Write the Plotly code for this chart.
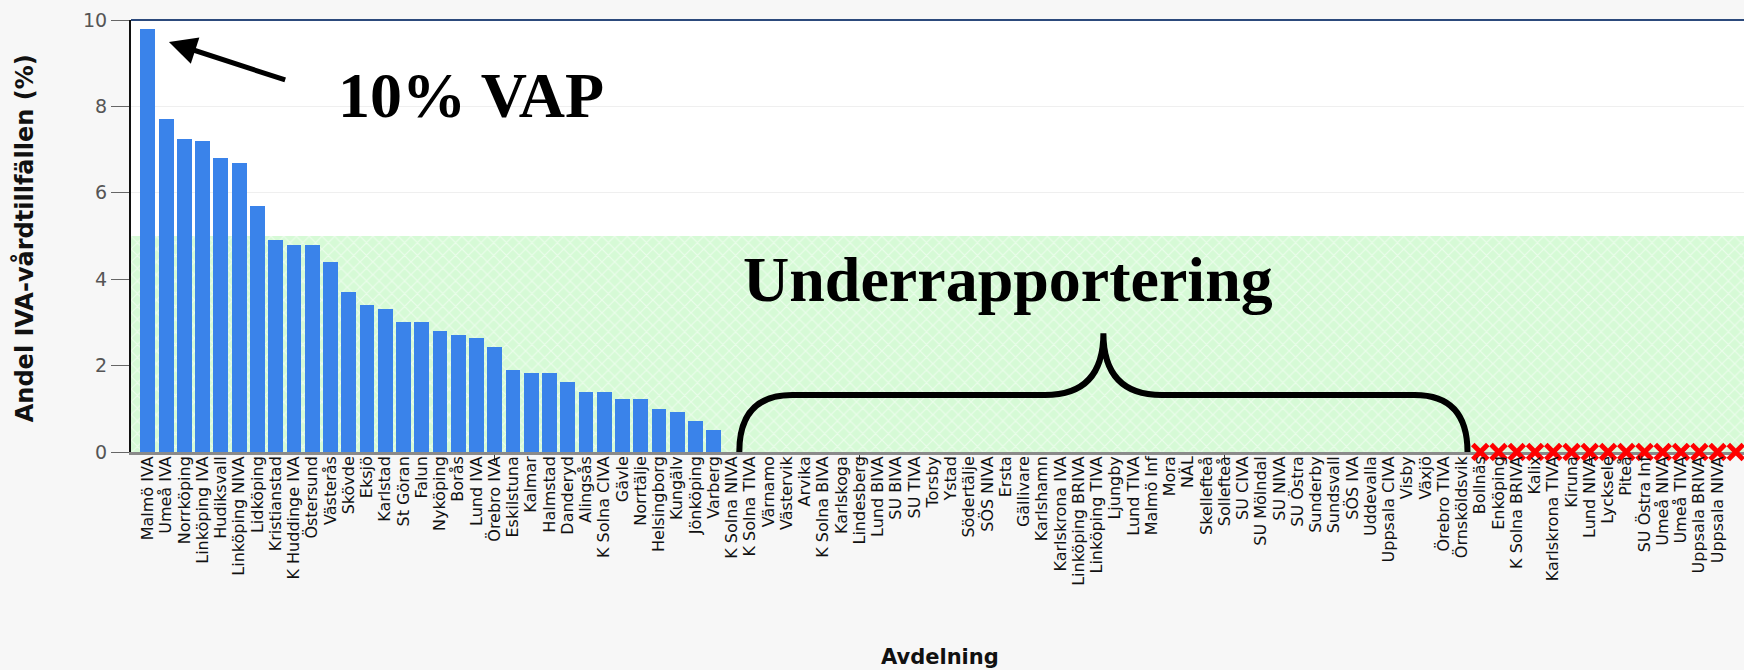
import plotly.graph_objects as go

# ---- data ----
reported_units = ["Malmö IVA", "Umeå IVA", "Norrköping", "Linköping IVA", "Hudiksvall",
                  "Linköping NIVA", "Lidköping", "Kristianstad", "K Huddinge IVA", "Östersund",
                  "Västerås", "Skövde", "Eksjö", "Karlstad", "St Göran", "Falun", "Nyköping",
                  "Borås", "Lund IVA", "Örebro IVA", "Eskilstuna", "Kalmar", "Halmstad",
                  "Danderyd", "Alingsås", "K Solna CIVA", "Gävle", "Norrtälje", "Helsingborg",
                  "Kungälv", "Jönköping", "Varberg"]
reported_values = [9.8, 7.7, 7.25, 7.2, 6.8, 6.7, 5.7, 4.9, 4.8, 4.8, 4.4, 3.7, 3.4, 3.3,
                   3.0, 3.0, 2.8, 2.7, 2.63, 2.42, 1.9, 1.84, 1.84, 1.62, 1.4, 1.4, 1.23,
                   1.23, 1.0, 0.93, 0.72, 0.52]
zero_units = ["K Solna NIVA", "K Solna TIVA", "Värnamo", "Västervik", "Arvika", "K Solna BIVA",
              "Karlskoga", "Lindesberg", "Lund BIVA", "SU BIVA", "SU TIVA", "Torsby", "Ystad",
              "Södertälje", "SÖS NIVA", "Ersta", "Gällivare", "Karlshamn", "Karlskrona IVA",
              "Linköping BRIVA", "Linköping TIVA", "Ljungby", "Lund TIVA", "Malmö Inf", "Mora",
              "NÄL", "Skellefteå", "Sollefteå", "SU CIVA", "SU Mölndal", "SU NIVA", "SU Östra",
              "Sunderby", "Sundsvall", "SÖS IVA", "Uddevalla", "Uppsala CIVA", "Visby", "Växjö",
              "Örebro TIVA", "Örnsköldsvik"]
missing_units = ["Bollnäs", "Enköping", "K Solna BRIVA", "Kalix", "Karlskrona TIVA", "Kiruna",
                 "Lund NIVA", "Lycksele", "Piteå", "SU Östra Inf", "Umeå NIVA", "Umeå TIVA",
                 "Uppsala BRIVA", "Uppsala NIVA", "Uppsala TIVA"]
underreport_limit = 5.0
y_ticks = [0, 2, 4, 6, 8, 10]

categories = reported_units + zero_units + missing_units
idx = list(range(len(categories)))
n_rep = len(reported_units)
n_zero = len(zero_units)
rep_idx = idx[:n_rep]
zero_idx = idx[n_rep:n_rep + n_zero]
miss_idx = idx[n_rep + n_zero:]

# ---- layout constants ----
x_range = [-0.93, 87.45]
W, H = 1744, 670
BLUE = "#3a83ea"

fig = go.Figure()

# hatched green "underreporting" band (drawn as one wide background bar)
fig.add_trace(go.Bar(
    x=[(x_range[0] + x_range[1]) / 2], y=[underreport_limit], width=[x_range[1] - x_range[0]],
    marker=dict(color="#dcfcdc", line=dict(width=0),
                pattern=dict(shape="x", fgcolor="white", bgcolor="#d6fad6", size=9, solidity=0.25)),
    hoverinfo="skip", showlegend=False))

fig.add_trace(go.Bar(
    x=rep_idx, y=reported_values, width=0.82,
    marker=dict(color=BLUE, line=dict(width=0)), showlegend=False))

fig.add_trace(go.Scatter(
    x=miss_idx, y=[0] * len(miss_idx), mode="markers", xaxis="x2",
    marker=dict(symbol="x-thin", size=15, line=dict(width=5, color="#ff0000")),
    cliponaxis=False, showlegend=False))

# curly brace over the zero-reporting units
xl = zero_idx[0] + 0.4
xr = zero_idx[-1] + 0.3
xc = (xl + xr) / 2
h, pk, rc, cc = 1.32, 2.75, 2.9, 3.2
brace = (f"M {xl},0 Q {xl},{h} {xl+rc},{h} L {xc-cc},{h} Q {xc},{h} {xc},{pk} "
         f"Q {xc},{h} {xc+cc},{h} L {xr-rc},{h} Q {xr},{h} {xr},0")

fig.update_layout(
    width=W, height=H,
    margin=dict(l=131, r=0, t=20, b=218),
    paper_bgcolor="#f7f7f7", plot_bgcolor="white",
    barmode="overlay", bargap=0,
    xaxis=dict(range=x_range, tickmode="array", tickvals=[19, 39, 59, 79],
               showticklabels=False, ticks="outside", ticklen=7, tickcolor="#333",
               showgrid=False, zeroline=False, showline=True, linecolor="#8a8a8a",
               linewidth=3, fixedrange=True, layer="below traces"),
    xaxis2=dict(range=x_range, overlaying="x", anchor="y", side="bottom",
                tickmode="array", tickvals=idx, ticktext=categories, tickangle=-90,
                ticks="", showgrid=False, zeroline=False, showline=False,
                tickfont=dict(family="DejaVu Sans", size=16, color="#111")),
    yaxis=dict(range=[0, 10], tickvals=y_ticks, ticks="outside", ticklen=18,
               tickcolor="#666", showline=True, linecolor="#111", linewidth=2,
               showgrid=True, gridcolor="#efefef", zeroline=False,
               tickfont=dict(family="DejaVu Sans", size=19, color="#555")),
    shapes=[
        dict(type="line", xref="paper", yref="paper", x0=0, x1=1, y0=1, y1=1,
             line=dict(color="#2c4a7c", width=2)),
        dict(type="path", xref="x", yref="y", path=brace,
             line=dict(color="black", width=6)),
    ],
    annotations=[
        dict(x=-0.0663, y=0.495, xref="paper", yref="paper", textangle=-90,
             xanchor="center", yanchor="middle",
             text="<b>Andel IVA-vårdtillfällen (%)</b>", showarrow=False,
             font=dict(family="DejaVu Sans", size=24, color="#111")),
        dict(x=0.5016, y=-0.475, xref="paper", yref="paper", text="<b>Avdelning</b>",
             xanchor="center", yanchor="middle",
             showarrow=False, font=dict(family="DejaVu Sans", size=21, color="#111")),
        dict(x=17.7, y=8.25, xref="x", yref="y", text="<b>10% VAP</b>", showarrow=False,
             font=dict(family="Liberation Serif", size=64, color="black")),
        dict(x=1.15, y=9.49, xref="x", yref="y", ax=7.6, ay=8.6, axref="x", ayref="y",
             text="", showarrow=True, arrowhead=2, arrowsize=1.1, arrowwidth=5,
             arrowcolor="black"),
        dict(x=47.1, y=4.0, xref="x", yref="y", text="<b>Underrapportering</b>",
             showarrow=False, font=dict(family="Liberation Serif", size=64, color="black")),
    ],
)

fig.write_html("out.html", config={"displayModeBar": False},
               post_script="document.body.style.margin='0';")
